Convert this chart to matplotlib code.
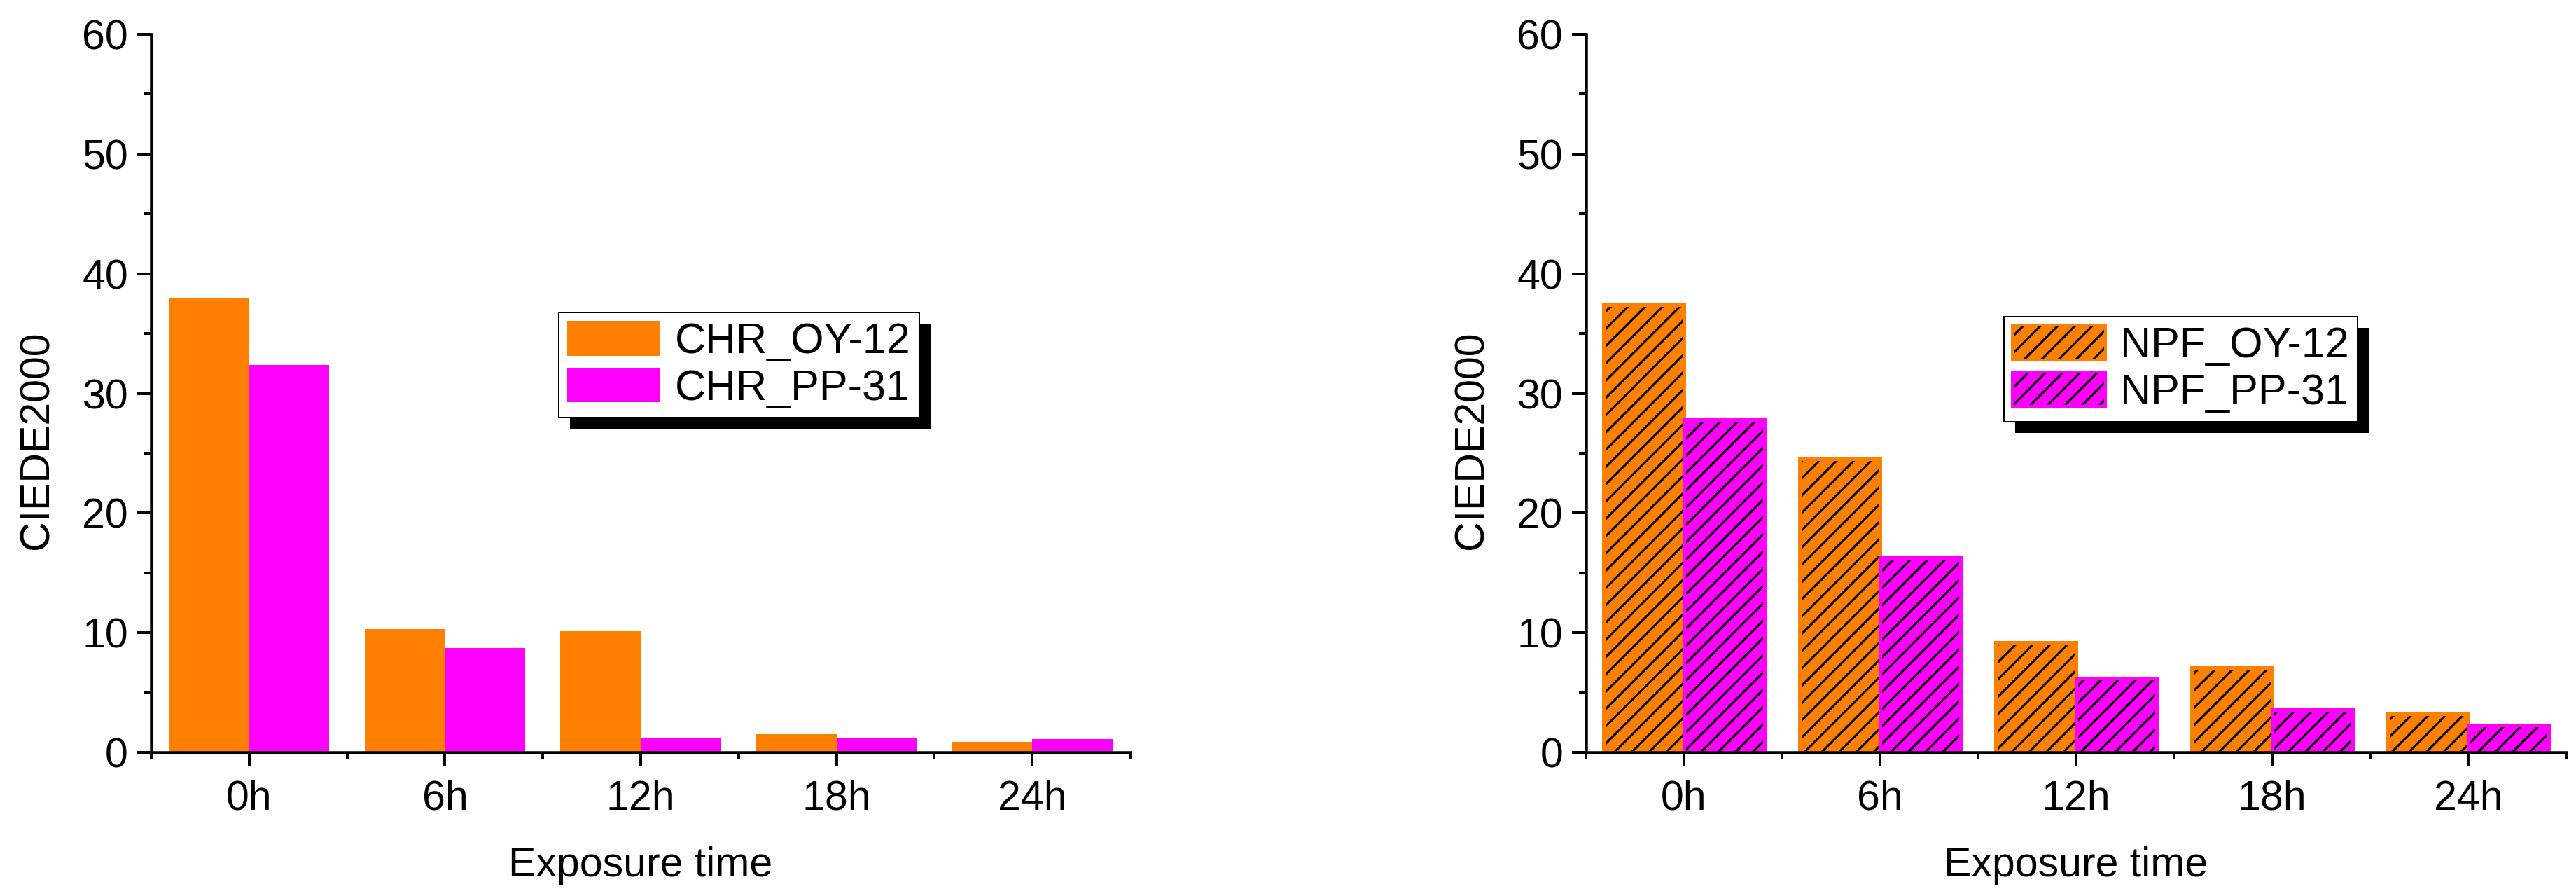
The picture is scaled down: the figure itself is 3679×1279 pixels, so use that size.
import matplotlib
matplotlib.use('Agg')
import matplotlib.pyplot as plt
from matplotlib.patches import Patch, Rectangle
from matplotlib.legend_handler import HandlerTuple
from matplotlib.ticker import MultipleLocator, FixedLocator
from matplotlib.transforms import IdentityTransform
import numpy as np

DPI = 148
W, H = 3679, 1279


def P(px):
    return px * 72.0 / DPI


categories = ['0h', '6h', '12h', '18h', '24h']
chr_oy12 = [38.0, 10.3, 10.1, 1.5, 0.9]
chr_pp31 = [32.4, 8.7, 1.2, 1.2, 1.1]
npf_oy12 = [37.4, 24.5, 9.2, 7.1, 3.2]
npf_pp31 = [27.8, 16.3, 6.2, 3.6, 2.3]
labels_left = ['CHR_OY-12', 'CHR_PP-31']
labels_right = ['NPF_OY-12', 'NPF_PP-31']
xlabel = 'Exposure time'
ylabel = 'CIEDE2000'

ORANGE = '#FF8000'
MAGENTA = '#FF00FF'

plt.rcParams['font.family'] = ['Liberation Sans', 'DejaVu Sans']
plt.rcParams['hatch.linewidth'] = P(3.2)

fig = plt.figure(figsize=(W / DPI, H / DPI), dpi=DPI)
axL = fig.add_axes([216 / W, 1 - 1074 / H, 1398 / W, 1025 / H])
axR = fig.add_axes([2265 / W, 1 - 1074 / H, 1400 / W, 1025 / H])

x = np.arange(1, len(categories) + 1)
bw = 0.41
FS = 59


def style_axes(ax):
    ax.set_xlim(0.5, len(categories) + 0.5)
    ax.set_ylim(0, 60)
    ax.set_xticks(x)
    ax.set_xticklabels(categories)
    ax.xaxis.set_minor_locator(FixedLocator(np.arange(0.5, len(categories) + 1, 1)))
    ax.yaxis.set_major_locator(MultipleLocator(10))
    ax.yaxis.set_minor_locator(MultipleLocator(5))
    ax.tick_params(which='major', direction='out', length=P(20), width=P(4),
                   labelsize=P(FS), colors='black')
    ax.tick_params(which='minor', direction='out', length=P(10), width=P(4))
    ax.tick_params(axis='x', which='major', pad=P(19))
    ax.tick_params(axis='y', which='major', pad=P(13))
    for s in ['top', 'right']:
        ax.spines[s].set_visible(False)
    for s in ['left', 'bottom']:
        ax.spines[s].set_linewidth(P(4.5))
    ax.set_xlabel(xlabel, fontsize=P(FS))
    ax.set_ylabel(ylabel, fontsize=P(FS))
    ax.yaxis.set_label_coords(-0.097, 0.435)
    ax.xaxis.set_label_coords(0.5, -0.131)


# Left panel: solid bars
axL.bar(x - bw, chr_oy12, width=bw, align='edge', color=ORANGE, linewidth=0, zorder=1)
axL.bar(x, chr_pp31, width=bw, align='edge', color=MAGENTA, linewidth=0, zorder=1)
style_axes(axL)

# Right panel: hatched bars
for offs, vals, col in [(-bw, npf_oy12, ORANGE), (0.0, npf_pp31, MAGENTA)]:
    axR.bar(x + offs, vals, width=bw, align='edge', color=col, linewidth=0, zorder=1)
    axR.bar(x + offs, vals, width=bw, align='edge', facecolor='none', edgecolor='black',
            hatch='//', linewidth=0, zorder=1.1)
    axR.bar(x + offs, vals, width=bw, align='edge', facecolor='none', edgecolor=col,
            linewidth=P(5), zorder=1.2)
style_axes(axR)

FS_LEG = 61
leg_kw = dict(loc='upper left', bbox_transform=fig.transFigure, borderaxespad=0,
              fontsize=P(FS_LEG), handlelength=133 / FS_LEG, handleheight=53 / FS_LEG,
              handletextpad=21 / FS_LEG, labelspacing=0.13, borderpad=0.2,
              frameon=True, fancybox=False, edgecolor='black', framealpha=1)

hL = [Patch(facecolor=ORANGE, linewidth=0), Patch(facecolor=MAGENTA, linewidth=0)]
legL = axL.legend(hL, labels_left, bbox_to_anchor=(798 / W, 1 - 446 / H), **leg_kw)
legL.get_frame().set_linewidth(P(2))

hR = []
for col in [ORANGE, MAGENTA]:
    hR.append((Patch(facecolor=col, linewidth=0),
               Patch(facecolor='none', edgecolor='black', hatch='//', linewidth=0),
               Patch(facecolor='none', edgecolor=col, linewidth=P(4))))
legR = axR.legend(hR, labels_right, bbox_to_anchor=(2862 / W, 1 - 452 / H),
                  handler_map={tuple: HandlerTuple(ndivide=1, pad=0)}, **leg_kw)
legR.get_frame().set_linewidth(P(2))

fig.canvas.draw()
for ax, leg in [(axL, legL), (axR, legR)]:
    bb = leg.get_window_extent()
    sh = Rectangle((bb.x0 + 16, bb.y0 - 16), bb.width, bb.height, transform=IdentityTransform(),
                   facecolor='black', edgecolor='none', zorder=4.9, clip_on=False)
    ax.add_artist(sh)

fig.savefig('out.png', dpi=DPI, facecolor='white')
